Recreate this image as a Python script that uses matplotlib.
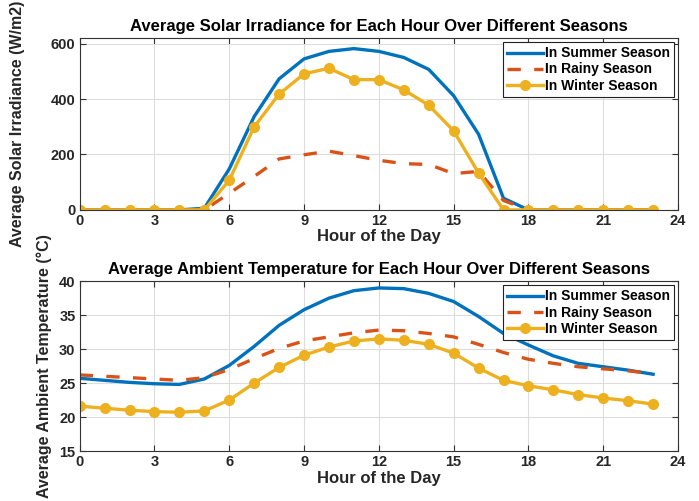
import numpy as np
import matplotlib.pyplot as plt

plt.rcParams['font.family'] = ['Liberation Sans', 'DejaVu Sans']
plt.rcParams['font.weight'] = 'bold'

hours = np.arange(24)

# solar irradiance (W/m2)
irr_summer = [0, 0, 0, 0, 0, 6, 148, 337, 473, 545, 572, 582, 572, 550, 507, 412, 273, 42,
              0, 0, 0, 0, 0, 0]
irr_rainy = [0, 0, 0, 0, 0, 0, 60, 121, 184, 199, 212, 196, 179, 167, 164, 131, 139, 34,
             0, 0, 0, 0, 0, 0]
irr_winter = [0, 0, 0, 0, 0, 0, 107, 300, 418, 491, 511, 470, 470, 433, 378, 285, 133, 0,
              0, 0, 0, 0, 0, 0]

# ambient temperature (C)
tmp_summer = [25.7, 25.4, 25.1, 24.9, 24.8, 25.6, 27.6, 30.4, 33.5, 35.8, 37.5, 38.6,
              39.0, 38.9, 38.2, 37.0, 34.8, 32.3, 30.6, 29.0, 27.9, 27.4, 26.9, 26.3]
tmp_rainy = [26.2, 26.0, 25.8, 25.6, 25.4, 25.8, 27.0, 28.6, 30.1, 31.2, 31.8, 32.4,
             32.8, 32.7, 32.3, 31.8, 30.7, 29.5, 28.5, 27.9, 27.4, 27.1, 26.8, 26.4]
tmp_winter = [21.6, 21.3, 21.0, 20.8, 20.7, 20.9, 22.5, 25.0, 27.3, 29.1, 30.3, 31.2,
              31.5, 31.3, 30.7, 29.4, 27.2, 25.4, 24.6, 24.0, 23.3, 22.8, 22.4, 21.9]

c_sum = '#0072BD'
c_rain = '#D95319'
c_win = '#EDB120'
txt = '#262626'

fig = plt.figure(figsize=(6.99, 5.01), dpi=100)
ax1 = fig.add_axes([0.114, 0.581, 0.856, 0.343])
ax2 = fig.add_axes([0.114, 0.0998, 0.856, 0.339])


def draw(ax, s, r, w, title, ylab, ylim, yticks, ylab_x):
    ax.plot(hours, s, color=c_sum, lw=2.4, label='In Summer Season')
    ax.plot(hours, r, color=c_rain, lw=2.4, ls=(0, (4, 4)), label='In Rainy Season')
    ax.plot(hours, w, color=c_win, lw=2.4, marker='o', ms=7, label='In Winter Season')
    ax.set_xlim(0, 24)
    ax.set_ylim(*ylim)
    ax.set_xticks(range(0, 25, 3))
    ax.set_yticks(yticks)
    ax.grid(True, color='#dddddd', lw=0.8)
    ax.set_axisbelow(True)
    ax.tick_params(direction='in', top=True, right=True, labelsize=10.5, length=4,
                   color='#333333', pad=3)
    for t in ax.get_xticklabels() + ax.get_yticklabels():
        t.set_fontweight('bold')
        t.set_color(txt)
    for sp in ax.spines.values():
        sp.set_color('#333333')
    ax.set_title(title, fontsize=12, fontweight='bold', pad=5)
    ax.set_xlabel('Hour of the Day', fontsize=12, fontweight='bold', color=txt, labelpad=1)
    ax.set_ylabel(ylab, fontsize=11.5, fontweight='bold', color=txt)
    ax.yaxis.set_label_coords(ylab_x, 0.5)
    leg = ax.legend(loc='upper right', fontsize=10, handlelength=2.6, fancybox=False,
                    framealpha=1, edgecolor='#222222', borderpad=0.3, labelspacing=0.15,
                    handletextpad=0.1, borderaxespad=0.3)
    leg.get_frame().set_linewidth(0.8)
    for t in leg.get_texts():
        t.set_fontweight('bold')


draw(ax1, irr_summer, irr_rainy, irr_winter,
     'Average Solar Irradiance for Each Hour Over Different Seasons',
     'Average Solar Irradiance (W/m2)', (0, 620), [0, 200, 400, 600], -0.092)
draw(ax2, tmp_summer, tmp_rainy, tmp_winter,
     'Average Ambient Temperature for Each Hour Over Different Seasons',
     'Average Ambient Temperature (°C)', (15, 40), [15, 20, 25, 30, 35, 40], -0.046)

fig.savefig('out.png', dpi=100)
